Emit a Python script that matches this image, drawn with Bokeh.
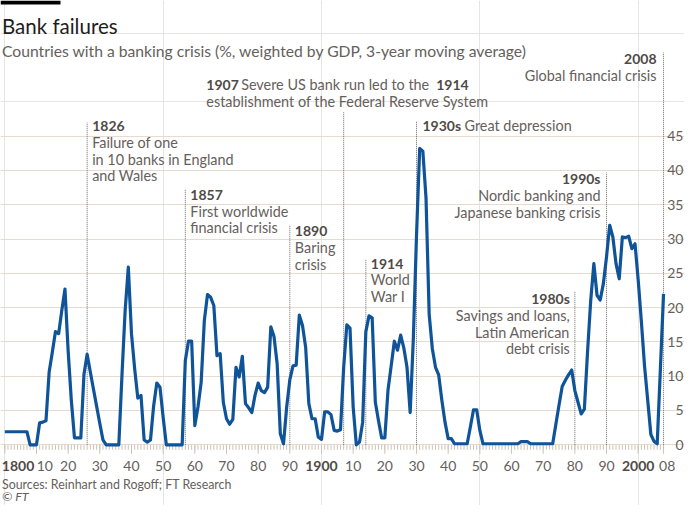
from bokeh.plotting import figure
from bokeh.models import ColumnDataSource, Range1d, FixedTicker, LabelSet, BoxAnnotation, Grid
from bokeh.core.properties import value
from bokeh.embed import file_html
from bokeh.resources import INLINE

# ---------------- data ----------------
years = list(range(1800, 2009))
crisis_share = [
    1.9, 1.9, 1.9, 1.9, 1.9, 1.9, 1.9, 1.9, 0.0, 0.0,          # 1800s
    0.0, 3.2, 3.3, 3.5, 10.6, 13.5, 16.5, 16.2, 19.6, 22.7,    # 1810s
    13.7, 6.5, 1.0, 1.0, 1.0, 10.3, 13.2, 10.6, 8.1, 5.6,      # 1820s
    3.1, 0.7, 0.0, 0.0, 0.0, 0.0, 0.0, 10.2, 19.6, 25.9,       # 1830s
    16.2, 11.1, 6.8, 7.2, 0.7, 0.4, 0.7, 5.7, 9.0, 8.4,        # 1840s
    4.0, 0.0, 0.0, 0.0, 0.0, 0.0, 0.0, 12.3, 15.1, 15.1,       # 1850s
    2.8, 5.5, 9.1, 18.1, 21.9, 21.5, 20.3, 13.0, 13.3, 6.2,    # 1860s
    3.8, 3.0, 3.7, 11.3, 9.9, 12.9, 6.0, 5.4, 4.7, 7.2,        # 1870s
    9.0, 7.9, 7.6, 8.4, 17.2, 15.8, 11.8, 1.6, 0.15, 5.5,      # 1880s
    9.5, 11.5, 11.6, 18.9, 17.4, 14.2, 6.0, 3.8, 3.8, 1.1,     # 1890s
    0.8, 4.8, 4.8, 4.4, 2.1, 2.0, 2.2, 11.3, 17.5, 17.0,       # 1900s
    5.5, 0.0, 0.4, 3.3, 16.5, 18.8, 18.5, 6.2, 3.5, 1.0,       # 1910s
    1.0, 8.0, 11.5, 15.1, 13.8, 16.0, 14.1, 11.3, 4.7, 15.5,   # 1920s
    30.5, 43.2, 42.8, 36.0, 19.0, 14.0, 11.3, 10.2, 6.5, 3.3,  # 1930s
    0.9, 0.9, 0.15, 0.15, 0.15, 0.15, 0.15, 2.6, 5.1, 5.1,     # 1940s
    2.1, 0.15, 0.15, 0.15, 0.15, 0.15, 0.15, 0.15, 0.15, 0.15, # 1950s
    0.15, 0.15, 0.15, 0.45, 0.45, 0.45, 0.15, 0.15, 0.15, 0.15,# 1960s
    0.15, 0.15, 0.15, 0.15, 3.0, 5.8, 8.5, 9.4, 10.2, 10.9,    # 1970s
    7.9, 6.2, 4.5, 5.2, 13.5, 21.0, 26.4, 21.8, 21.1, 23.5,    # 1980s
    27.4, 32.0, 30.3, 26.4, 24.2, 30.3, 30.2, 30.4, 28.6, 29.3,# 1990s
    24.0, 18.0, 11.5, 6.5, 1.5, 0.5, 0.15, 11.0, 22.0,         # 2000-2008
]

x_tick_years = [1800, 1810, 1820, 1830, 1840, 1850, 1860, 1870, 1880, 1890,
                1900, 1910, 1920, 1930, 1940, 1950, 1960, 1970, 1980, 1990,
                2000, 2008]
x_tick_labels = ["1800", "10", "20", "30", "40", "50", "60", "70", "80", "90",
                 "1900", "10", "20", "30", "40", "50", "60", "70", "80", "90",
                 "2000", "08"]
x_tick_bold = ["1800", "1900", "2000"]

y_ticks = [0, 5, 10, 15, 20, 25, 30, 35, 40, 45]
y_tick_labels = ["0", "5", "10", "15", "20", "25", "30", "35", "40", "45"]

event_years = [1826, 1857, 1890, 1907, 1914, 1930, 1980, 1990, 2008]
event_marker_tops = [47.0, 37.2, 32.0, 48.5, 27.1, 47.2, 22.4, 39.7, 57.2]

TITLE = "Bank failures"
SUBTITLE = "Countries with a banking crisis (%, weighted by GDP, 3-year moving average)"
SOURCE = "Sources: Reinhart and Rogoff; FT Research"
CREDIT = "© FT"

# ---------------- layout / style ----------------
W, H = 684, 505
X_RANGE = (1798.64, 2014.62)
Y_RANGE = (-8.85, 64.77)
GRID_SPAN = (1799.6, 2009.0)
PX_PER_UNIT = H / (Y_RANGE[1] - Y_RANGE[0])
LINE_STEP = 16.7 / PX_PER_UNIT
MINOR_TICK = 5 / PX_PER_UNIT
MAJOR_TICK = 9 / PX_PER_UNIT
FONT = "Lato"
NOTE_SIZE = "14.4px"
YEAR_SIZE = "14px"
GREY = "#66605c"
DARK = "#4f4a46"
BLUE = "#0f5499"
GRID = "#e7dbd0"
TICK = "#cdc2b8"

p = figure(width=W, height=H, output_backend="svg", toolbar_location=None,
           x_range=Range1d(*X_RANGE), y_range=Range1d(*Y_RANGE),
           x_axis_location=None, y_axis_location=None, min_border=0, title=None)
p.outline_line_color = None
p.background_fill_color = "white"
p.border_fill_color = "white"

p.add_layout(Grid(dimension=1, ticker=FixedTicker(ticks=y_ticks), bounds=GRID_SPAN,
                  grid_line_color=GRID, grid_line_width=1))

# x-axis ticks (yearly minor, decade major)
p.segment(x0=years, y0=[0] * len(years), x1=years, y1=[-MINOR_TICK] * len(years),
          line_color=TICK, line_width=1)
p.segment(x0=x_tick_years, y0=[0] * len(x_tick_years), x1=x_tick_years,
          y1=[-MAJOR_TICK] * len(x_tick_years), line_color=TICK, line_width=1)

# event marker lines
p.segment(x0=event_years, y0=[0] * len(event_years), x1=event_years, y1=event_marker_tops,
          line_color="#6f6964", line_width=1, line_dash="1 1")

# main series
p.line(years, crisis_share, line_color=BLUE, line_width=3.2, line_join="round")

# x tick labels
x_label_dx = {0: 13.2, 1: 8.3, 21: 3.7}
reg_idx = [i for i, t in enumerate(x_tick_labels) if t not in x_tick_bold]
bold_idx = [i for i, t in enumerate(x_tick_labels) if t in x_tick_bold]


def xl_source(idx):
    return ColumnDataSource(dict(
        x=[x_tick_years[i] for i in idx],
        text=[x_tick_labels[i] for i in idx],
        dx=[x_label_dx.get(i, 0) for i in idx],
    ))


for idx, style, col in ((reg_idx, "normal", GREY), (bold_idx, "bold", DARK)):
    p.add_layout(LabelSet(source=xl_source(idx), x="x", y=H - 470, y_units="screen",
                          text="text", x_offset="dx", text_align="center",
                          text_baseline="alphabetic", text_font=value(FONT),
                          text_font_size="14px", text_font_style=style, text_color=col))

# y tick labels (right side)
p.add_layout(LabelSet(source=ColumnDataSource(dict(y=y_ticks, text=y_tick_labels)),
                      x=W - 1, x_units="screen", y="y", text="text",
                      text_align="right", text_baseline="middle",
                      text_font=value(FONT), text_font_size="14px", text_color=GREY))


def lab(x, y, text, bold=False, align="left", dx=0, size=None, color=None,
        units="data", style=None):
    src = ColumnDataSource(dict(x=[x], y=[y], text=[text]))
    p.add_layout(LabelSet(source=src, x="x", y="y", x_units=units, y_units=units,
                          text="text", x_offset=dx, text_align=align,
                          text_baseline="alphabetic", text_font=value(FONT),
                          text_font_size=size or (YEAR_SIZE if bold else NOTE_SIZE),
                          text_font_style=style or ("bold" if bold else "normal"),
                          text_color=color or (DARK if bold else GREY)))


notes = [
    (1826, 45.7, "left", 5, ["1826", "Failure of one", "in 10 banks in England", "and Wales"]),
    (1857, 35.7, "left", 5, ["1857", "First worldwide", "financial crisis"]),
    (1890, 30.4, "left", 5, ["1890", "Baring", "crisis"]),
    (1914, 25.7, "left", 5, ["1914", "World", "War I"]),
    (1990, 38.0, "right", -6, ["1990s", "Nordic banking and", "Japanese banking crisis"]),
    (1980, 20.5, "right", -5, ["1980s", "Savings and loans,", "Latin American", "debt crisis"]),
    (2008, 55.5, "right", -7, ["2008", "Global financial crisis"]),
]
for yr, yv, side, dx, lines in notes:
    for i, t in enumerate(lines):
        lab(yr, yv - i * LINE_STEP, t, bold=(i == 0), align=side, dx=dx)

# mixed-style lines
lab(1907, 51.7, "1907", bold=True, dx=-137.3)
lab(1907, 51.7, "Severe US bank run led to the", dx=-102.5)
lab(1907, 51.7, "1914", bold=True, dx=92.5)
lab(1907, 51.7 - LINE_STEP, "establishment of the Federal Reserve System", dx=-137.3)
lab(1930, 45.8, "1930s", bold=True, dx=6)
lab(1930, 45.8, "Great depression", dx=48)

# header / footer (screen units, measured from the bottom-left)
p.add_layout(BoxAnnotation(left=0, right=60, top=H, bottom=H - 4,
                           left_units="screen", right_units="screen",
                           top_units="screen", bottom_units="screen",
                           fill_color="black", fill_alpha=1, line_color=None))
lab(1.5, H - 33, TITLE, size="20.5px", color="#1f1d1c", units="screen")
lab(1.5, H - 56.5, SUBTITLE, size="15.7px", units="screen")
lab(1.5, H - 488, SOURCE, size="12.4px", units="screen")
lab(1.5, H - 500, CREDIT, size="12.4px", units="screen", style="italic")

open("out.html", "w").write(file_html(p, INLINE))
